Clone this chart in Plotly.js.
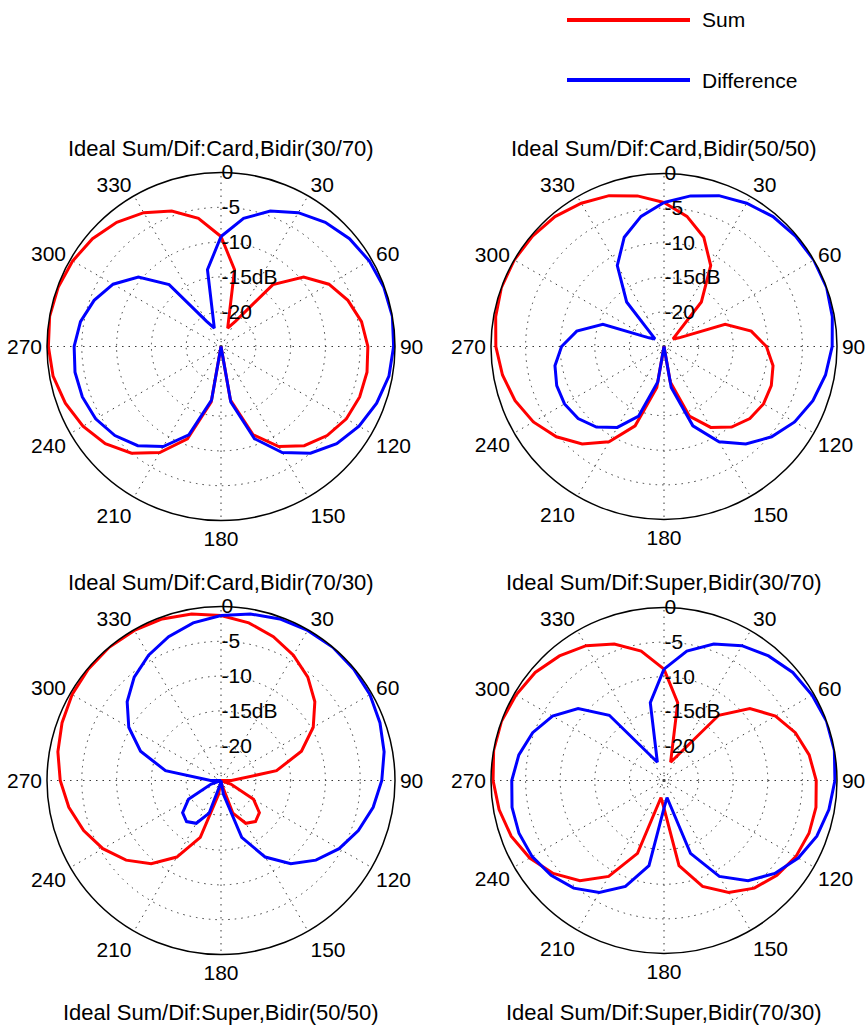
<!DOCTYPE html>
<html>
<head>
<meta charset="utf-8">
<script src="https://cdn.plot.ly/plotly-3.0.1.min.js"></script>
<style>
  html, body { margin: 0; padding: 0; background: #ffffff; }
  #chart { width: 868px; height: 1027px; }
</style>
</head>
<body>
<div id="chart"></div>
<script>
// Angles (degrees, 0 at top, clockwise) shared by every trace
const theta = [0,10,20,30,40,50,60,70,80,90,100,110,120,130,140,150,160,170,180,
               190,200,210,220,230,240,250,260,270,280,290,300,310,320,330,340,350,360];

// Levels in dB
const cardBidir3070Sum = [-9.2,-13.8,-22.2,-20.8,-13.4,-9.5,-7.1,-5.6,-4.5,-3.9,-3.7,-3.8,-4.2,-5.1,-6.4,-8.4,-11.5,-17.2,-25,
                          -16.9,-10.9,-7.4,-5.0,-3.3,-2.1,-1.2,-0.5,-0.2,0,-0.1,-0.4,-0.9,-1.7,-2.8,-4.3,-6.3,-9.2];
const cardBidir3070Dif = [-9.2,-6.3,-4.3,-2.8,-1.7,-0.9,-0.4,-0.1,0,-0.2,-0.5,-1.2,-2.1,-3.3,-5.0,-7.4,-10.9,-16.9,-25,
                          -17.2,-11.5,-8.4,-6.4,-5.1,-4.2,-3.8,-3.7,-3.9,-4.5,-5.6,-7.1,-9.5,-13.4,-20.8,-22.2,-13.8,-9.2];

const cardBidir5050Sum = [-4.2,-5.9,-8.2,-11.5,-16.6,-23.3,-22.5,-15.6,-12.2,-10.2,-9.0,-8.5,-8.4,-8.8,-9.8,-11.5,-14.3,-19.8,-25,
                          -19.0,-12.8,-9.1,-6.6,-4.7,-3.2,-2.1,-1.3,-0.7,-0.3,0,0,-0.2,-0.5,-1.1,-1.8,-2.9,-4.2];
const cardBidir5050Dif = [-4.2,-2.9,-1.8,-1.1,-0.5,-0.2,0,0,-0.3,-0.7,-1.3,-2.1,-3.2,-4.7,-6.6,-9.1,-12.8,-19.0,-25,
                          -19.8,-14.3,-11.5,-9.8,-8.8,-8.4,-8.5,-9.0,-10.2,-12.2,-15.6,-22.5,-23.3,-16.6,-11.5,-8.2,-5.9,-4.2];

const cardBidir7030Sum = [-1.3,-2.0,-3.0,-4.2,-5.6,-7.4,-9.7,-12.7,-16.9,-23.5,-25,-23.5,-19.6,-17.8,-17.3,-17.9,-20.0,-24.5,-25,
                          -23.0,-16.3,-12.3,-9.4,-7.2,-5.4,-4.0,-2.8,-1.9,-1.2,-0.7,-0.3,-0.1,0,-0.1,-0.3,-0.7,-1.3];
const cardBidir7030Dif = [-1.3,-0.7,-0.3,-0.1,0,-0.1,-0.3,-0.7,-1.2,-1.9,-2.8,-4.0,-5.4,-7.2,-9.4,-12.3,-16.3,-23.0,-25,
                          -24.5,-20.0,-17.9,-17.3,-17.8,-19.6,-23.5,-25,-23.5,-16.9,-12.7,-9.7,-7.4,-5.6,-4.2,-3.0,-2.0,-1.3];

const superBidir3070Sum = [-8.9,-13.6,-22.2,-20.5,-12.7,-8.8,-6.4,-4.8,-3.7,-3.0,-2.7,-2.7,-3.0,-3.7,-4.7,-6.3,-8.7,-12.5,-21.0,
                           -22.5,-13.8,-9.0,-6.1,-4.1,-2.6,-1.5,-0.8,-0.3,0,0,-0.3,-0.7,-1.5,-2.5,-4.0,-6.0,-8.9];
const superBidir3070Dif = [-8.9,-6.0,-4.0,-2.5,-1.5,-0.7,-0.3,0,0,-0.3,-0.8,-1.5,-2.6,-4.1,-6.1,-9.0,-13.8,-22.5,-21.0,
                           -12.5,-8.7,-6.3,-4.7,-3.7,-3.0,-2.7,-2.7,-3.0,-3.7,-4.8,-6.4,-8.8,-12.7,-20.5,-22.2,-13.6,-8.9];

// Tick labels
const angleTicks = [0,30,60,90,120,150,180,210,240,270,300,330];
const angleTickText = ['','30','60','90','120','150','180','210','240','270','300','330'];
const radialTicks = [-24.3,-20,-15,-10,-5,0];
const radialTickText = ['','-20','-15dB','-10','-5','0'];

const panelTitles = [
  'Ideal Sum/Dif:Card,Bidir(30/70)',
  'Ideal Sum/Dif:Card,Bidir(50/50)',
  'Ideal Sum/Dif:Card,Bidir(70/30)',
  'Ideal Sum/Dif:Super,Bidir(30/70)'
];
const trailingTitles = [
  'Ideal Sum/Dif:Super,Bidir(50/50)',
  'Ideal Sum/Dif:Super,Bidir(70/30)'
];
const seriesNames = ['Sum', 'Difference'];

const RED = '#ff0000', BLUE = '#0000ff';
const FONT = 'Liberation Sans, Arial, Helvetica, sans-serif';
const W = 868, H = 1027;
const GRID = '#3a3a3a', GRIDDASH = '1.5px,5px';

const panels = [
  {sum: cardBidir3070Sum, dif: cardBidir3070Dif, cx: 221, cy: 346.5, R: 174},
  {sum: cardBidir5050Sum, dif: cardBidir5050Dif, cx: 664, cy: 346.5, R: 173},
  {sum: cardBidir7030Sum, dif: cardBidir7030Dif, cx: 221, cy: 780.5, R: 174},
  {sum: superBidir3070Sum, dif: superBidir3070Dif, cx: 664, cy: 780.5, R: 173}
];

const data = [];
const layout = {
  width: W, height: H,
  margin: {l: 0, r: 0, t: 0, b: 0},
  paper_bgcolor: '#ffffff',
  showlegend: false,
  font: {family: FONT, size: 21, color: '#000000'},
  annotations: [],
  shapes: []
};

panels.forEach((p, i) => {
  const key = i === 0 ? 'polar' : 'polar' + (i + 1);
  data.push({type: 'scatterpolar', mode: 'lines', subplot: key, name: seriesNames[0],
             theta: theta, r: p.sum, line: {color: RED, width: 3}, hoverinfo: 'skip'});
  data.push({type: 'scatterpolar', mode: 'lines', subplot: key, name: seriesNames[1],
             theta: theta, r: p.dif, line: {color: BLUE, width: 3}, hoverinfo: 'skip'});
  layout[key] = {
    domain: {
      x: [(p.cx - p.R) / W, (p.cx + p.R) / W],
      y: [1 - (p.cy + p.R) / H, 1 - (p.cy - p.R) / H]
    },
    bgcolor: '#ffffff',
    angularaxis: {
      rotation: 90, direction: 'clockwise',
      tickmode: 'array', tickvals: angleTicks, ticktext: angleTickText,
      ticks: '', showline: true, linecolor: '#000000', linewidth: 1.5,
      showgrid: true, gridcolor: GRID, gridwidth: 1, griddash: GRIDDASH,
      tickfont: {family: FONT, size: 21, color: '#000000'}
    },
    radialaxis: {
      range: [-25, 0], angle: 90, tickangle: 90,
      tickmode: 'array', tickvals: radialTicks, ticktext: radialTickText,
      ticks: '', showline: false,
      showgrid: true, gridcolor: GRID, gridwidth: 1, griddash: GRIDDASH,
      tickfont: {family: FONT, size: 21, color: '#000000'}
    }
  };
  layout.annotations.push({
    xref: 'paper', yref: 'paper', x: p.cx / W, y: 1 - (p.cy - 198.5) / H,
    xanchor: 'center', yanchor: 'middle', showarrow: false,
    text: panelTitles[i], font: {family: FONT, size: 22, color: '#000000'}
  });
});

[221, 664].forEach((cx, k) => {
  layout.annotations.push({
    xref: 'paper', yref: 'paper', x: cx / W, y: 1 - 1012 / H,
    xanchor: 'center', yanchor: 'middle', showarrow: false,
    text: trailingTitles[k], font: {family: FONT, size: 22, color: '#000000'}
  });
});

// Legend
[[RED, 20], [BLUE, 80]].forEach(([c, y], k) => {
  layout.shapes.push({type: 'line', xref: 'paper', yref: 'paper',
    x0: 567 / W, x1: 690 / W, y0: 1 - y / H, y1: 1 - y / H,
    line: {color: c, width: 4}});
  layout.annotations.push({
    xref: 'paper', yref: 'paper', x: 700 / W, y: 1 - y / H,
    xanchor: 'left', yanchor: 'middle', showarrow: false,
    text: seriesNames[k], font: {family: FONT, size: 21, color: '#000000'}
  });
});

Plotly.newPlot('chart', data, layout, {staticPlot: true, displayModeBar: false});
</script>
</body>
</html>
